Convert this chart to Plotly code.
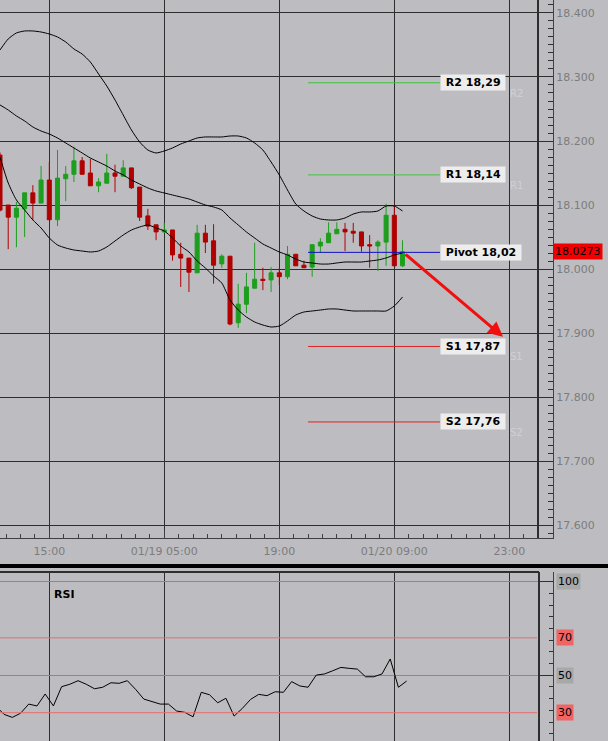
import plotly.graph_objects as go
import pandas as pd

# ---------------- data ----------------
times = pd.date_range("2015-01-18 09:00", periods=50, freq="h")

opens = [18.178, 18.100, 18.081, 18.094, 18.119, 18.103, 18.139, 18.077, 18.141, 18.148,
         18.169, 18.150, 18.130, 18.134, 18.150, 18.145, 18.158, 18.128, 18.083, 18.069,
         18.058, 18.061, 18.023, 18.017, 17.994, 18.056, 18.044, 18.008, 18.020, 17.916,
         17.945, 17.970, 17.984, 17.983, 17.994, 17.988, 18.023, 18.006, 18.003, 18.036,
         18.041, 18.055, 18.062, 18.059, 18.058, 18.038, 18.036, 18.042, 18.084, 18.005]
highs = [18.182, 18.100, 18.105, 18.119, 18.131, 18.161, 18.167, 18.186, 18.161, 18.191,
         18.175, 18.172, 18.142, 18.180, 18.163, 18.170, 18.158, 18.128, 18.094, 18.069,
         18.072, 18.061, 18.041, 18.017, 18.069, 18.069, 18.070, 18.023, 18.020, 17.977,
         17.994, 18.041, 18.002, 18.003, 18.002, 18.036, 18.023, 18.013, 18.038, 18.048,
         18.073, 18.073, 18.072, 18.072, 18.058, 18.053, 18.045, 18.102, 18.100, 18.045]
lows = [18.090, 18.031, 18.034, 18.050, 18.077, 18.103, 18.077, 18.067, 18.106, 18.136,
        18.147, 18.130, 18.120, 18.134, 18.120, 18.145, 18.125, 18.075, 18.061, 18.045,
        18.056, 18.013, 17.972, 17.964, 17.994, 18.025, 17.977, 18.002, 17.912, 17.908,
        17.931, 17.970, 17.967, 17.964, 17.975, 17.984, 18.005, 18.002, 17.988, 18.025,
        18.041, 18.055, 18.028, 18.041, 18.027, 18.002, 17.997, 18.005, 18.005, 18.003]
closes = [18.092, 18.081, 18.095, 18.119, 18.103, 18.139, 18.077, 18.142, 18.148, 18.169,
          18.148, 18.130, 18.136, 18.150, 18.145, 18.158, 18.127, 18.081, 18.067, 18.058,
          18.061, 18.022, 18.017, 17.995, 18.056, 18.042, 18.006, 18.020, 17.914, 17.945,
          17.972, 17.984, 17.982, 17.994, 17.988, 18.023, 18.005, 18.002, 18.038, 18.042,
          18.056, 18.062, 18.058, 18.056, 18.036, 18.036, 18.042, 18.084, 18.005, 18.027]

bb_upper = [18.3422, 18.3594, 18.3688, 18.3719, 18.3719, 18.3703, 18.3672, 18.3625, 18.3547, 18.3438,
            18.3359, 18.3234, 18.3047, 18.2859, 18.2641, 18.2406, 18.2172, 18.1984, 18.1859, 18.1813,
            18.1844, 18.1891, 18.1953, 18.2000, 18.2047, 18.2063, 18.2063, 18.2063, 18.2078, 18.2078,
            18.2047, 18.1969, 18.1859, 18.1672, 18.1469, 18.1234, 18.1016, 18.0906, 18.0828, 18.0781,
            18.0766, 18.0766, 18.0797, 18.0859, 18.0891, 18.0891, 18.0906, 18.0984, 18.0984, 18.0906]
bb_middle = [18.2563, 18.2484, 18.2391, 18.2313, 18.2219, 18.2156, 18.2109, 18.2047, 18.1969, 18.1891,
             18.1813, 18.1734, 18.1672, 18.1609, 18.1531, 18.1469, 18.1391, 18.1328, 18.1266, 18.1219,
             18.1188, 18.1156, 18.1125, 18.1094, 18.1047, 18.1000, 18.0969, 18.0922, 18.0797, 18.0688,
             18.0578, 18.0484, 18.0391, 18.0328, 18.0266, 18.0219, 18.0156, 18.0109, 18.0094, 18.0078,
             18.0078, 18.0094, 18.0109, 18.0109, 18.0109, 18.0125, 18.0141, 18.0172, 18.0219, 18.0250]
bb_lower = [18.1750, 18.1344, 18.1078, 18.0922, 18.0766, 18.0641, 18.0484, 18.0375, 18.0328, 18.0297,
            18.0281, 18.0266, 18.0281, 18.0344, 18.0438, 18.0531, 18.0609, 18.0656, 18.0688, 18.0641,
            18.0594, 18.0484, 18.0359, 18.0266, 18.0125, 18.0016, 17.9891, 17.9781, 17.9516, 17.9359,
            17.9250, 17.9172, 17.9125, 17.9094, 17.9109, 17.9188, 17.9281, 17.9328, 17.9344, 17.9359,
            17.9375, 17.9375, 17.9359, 17.9344, 17.9344, 17.9344, 17.9344, 17.9344, 17.9422, 17.9563]

rsi_times = pd.date_range("2015-01-18 08:30", periods=51, freq="h")
rsi_values = [33.5,
              29.1, 27.5, 29.7, 34.6, 33.6, 40.0, 33.6, 43.9, 45.2, 47.1,
              45.2, 42.8, 43.6, 46.0, 45.7, 47.1, 42.5, 37.3, 35.9, 34.6,
              34.6, 30.9, 30.2, 27.8, 40.9, 39.6, 35.3, 37.7, 28.2, 32.3,
              37.1, 39.8, 39.1, 41.2, 40.9, 46.6, 44.3, 43.6, 50.1, 50.7,
              52.4, 54.2, 53.7, 53.3, 49.2, 49.2, 50.7, 58.7, 43.6, 46.9]

level_names = ["R2", "R1", "Pivot", "S1", "S2"]
level_values = [18.291, 18.147, 18.026, 17.879, 17.761]
level_labels = ["R2 18,29", "R1 18,14", "Pivot 18,02", "S1 17,87", "S2 17,76"]
level_colors = ["#3cc43c", "#3cc43c", "#1010c8", "#e02020", "#e02020"]
faint_names = ["R2", "R1", "", "S1", "S2"]
level_start = "2015-01-19 22:30"
level_end = "2015-01-20 14:34"
faint_time = "2015-01-20 22:50"

last_price = 18.0273
arrow_from_time, arrow_from_price = "2015-01-20 10:11", 18.025
arrow_to_time, arrow_to_price = "2015-01-20 22:14", 17.894

time_tickvals = ["2015-01-18 15:00", "2015-01-19 05:00", "2015-01-19 19:00",
                 "2015-01-20 09:00", "2015-01-20 23:00"]
time_ticktext = ["15:00", "01/19 05:00", "19:00", "01/20 09:00", "23:00"]
price_tickvals = [17.6, 17.7, 17.8, 17.9, 18.0, 18.1, 18.2, 18.3, 18.4]
price_ticktext = ["17.600", "17.700", "17.800", "17.900", "18.000",
                  "18.100", "18.200", "18.300", "18.400"]
rsi_levels = [100, 70, 50, 30]
rsi_level_colors = ["#a8a8a8", "#f06464", "#a8a8a8", "#f06464"]

# ---------------- geometry ----------------
W, H = 608, 741
BG = "#bdbdc1"
GRID = "#2e2e2e"
FONT = "DejaVu Sans"
x_range = ["2015-01-18 09:00", "2015-01-21 04:19"]
main_dom = [203 / H, 1.0]
rsi_dom = [0.0, 169 / H]
xdom = [0.0, 553 / W]

fig = go.Figure()

fig.add_trace(go.Candlestick(
    x=times, open=opens, high=highs, low=lows, close=closes,
    increasing=dict(line=dict(color="#1e9e1e", width=1), fillcolor="#1e9e1e"),
    decreasing=dict(line=dict(color="#b00000", width=1), fillcolor="#b00000"),
    whiskerwidth=0, xaxis="x", yaxis="y", showlegend=False, hoverinfo="skip"))

for band in (bb_upper, bb_middle, bb_lower):
    fig.add_trace(go.Scatter(x=times, y=band, mode="lines",
                             line=dict(color="black", width=1, shape="spline", smoothing=0.6),
                             xaxis="x", yaxis="y", showlegend=False, hoverinfo="skip"))

for v, c in zip(level_values, level_colors):
    fig.add_trace(go.Scatter(x=[level_start, level_end], y=[v, v], mode="lines",
                             line=dict(color=c, width=1), xaxis="x", yaxis="y",
                             showlegend=False, hoverinfo="skip"))

fig.add_trace(go.Scatter(x=rsi_times, y=rsi_values, mode="lines",
                         line=dict(color="black", width=1),
                         xaxis="x2", yaxis="y2", showlegend=False, hoverinfo="skip"))

annotations = []
for v, lab, fn in zip(level_values, level_labels, faint_names):
    annotations.append(dict(x=level_end, y=v, xref="x", yref="y", xanchor="left", yanchor="middle",
                            text="<b>\u00a0" + lab + "\u00a0</b>", showarrow=False,
                            font=dict(family=FONT, size=11, color="black"),
                            bgcolor="#ededed", borderpad=1))
    if fn:
        annotations.append(dict(x=faint_time, y=v, xref="x", yref="y", xanchor="left", yanchor="top",
                                yshift=-3, text=fn, showarrow=False,
                                font=dict(family=FONT, size=10, color="#d0d0d4")))

annotations.append(dict(x=arrow_to_time, y=arrow_to_price, ax=arrow_from_time, ay=arrow_from_price,
                        xref="x", yref="y", axref="x", ayref="y", text="", showarrow=True,
                        arrowhead=2, arrowsize=1, arrowwidth=3, arrowcolor="#f01010"))

annotations.append(dict(x=553 / W, y=last_price, xref="paper", yref="y", xanchor="left", yanchor="middle",
                        text=f"{last_price:.4f}", showarrow=False,
                        font=dict(family=FONT, size=11, color="black"),
                        bgcolor="#f00000", borderpad=1))

for lv, col in zip(rsi_levels, rsi_level_colors):
    annotations.append(dict(x=556 / W, y=lv, xref="paper", yref="y2", xanchor="left", yanchor="middle",
                            text=str(lv), showarrow=False,
                            font=dict(family=FONT, size=11, color="black"),
                            bgcolor=col, borderpad=1))

annotations.append(dict(x=52 / W, y=(H - 594) / H, xref="paper", yref="paper", xanchor="left",
                        yanchor="middle", text="<b>RSI</b>", showarrow=False,
                        font=dict(family=FONT, size=11, color="black")))

shapes = [
    # main chart right border
    dict(type="line", xref="paper", yref="paper", x0=538 / W, x1=538 / W, y0=main_dom[0], y1=1,
         line=dict(color=GRID, width=2)),
    # thick separator
    dict(type="rect", xref="paper", yref="paper", x0=0, x1=1, y0=(H - 568) / H, y1=(H - 564) / H,
         fillcolor="black", line=dict(width=0)),
    # RSI panel borders
    dict(type="line", xref="paper", yref="paper", x0=0, x1=539 / W, y0=rsi_dom[1], y1=rsi_dom[1],
         line=dict(color=GRID, width=2)),
    dict(type="line", xref="paper", yref="paper", x0=539 / W, x1=539 / W, y0=0, y1=rsi_dom[1],
         line=dict(color=GRID, width=2)),
]
for lv, col in zip(rsi_levels, rsi_level_colors):
    if lv in (70, 30):
        shapes.append(dict(type="line", xref="paper", yref="y2", x0=0, x1=537 / W, y0=lv, y1=lv,
                           line=dict(color="#e46e6e", width=1)))

tickfont = dict(family=FONT, size=11, color="#7c7c7c")

fig.update_layout(
    width=W, height=H, margin=dict(l=0, r=0, t=0, b=0, pad=0),
    paper_bgcolor=BG, plot_bgcolor=BG, showlegend=False, hovermode=False,
    xaxis=dict(domain=xdom, range=x_range, type="date", anchor="y",
               tickvals=time_tickvals, ticktext=time_ticktext, tickfont=tickfont,
               ticklabelstandoff=3,
               showgrid=True, gridcolor=GRID, gridwidth=1,
               ticks="inside", ticklen=8, tickcolor="#404040",
               minor=dict(ticks="inside", ticklen=4, tickcolor="#404040",
                          dtick=6300000, tick0="2015-01-18 15:00", showgrid=False),
               showline=True, linecolor="#404040", linewidth=1,
               rangeslider=dict(visible=False), zeroline=False, automargin=False),
    yaxis=dict(domain=main_dom, range=[17.5797, 18.4203], anchor="x", side="right",
               tickvals=price_tickvals, ticktext=price_ticktext, tickfont=tickfont,
               showgrid=True, gridcolor=GRID, gridwidth=1,
               ticks="inside", ticklen=15, tickcolor="#303030",
               minor=dict(ticks="inside", ticklen=5, tickcolor="#303030",
                          dtick=0.0125, tick0=17.6, showgrid=False),
               showline=True, linecolor="#404040", linewidth=1,
               zeroline=False, automargin=False),
    xaxis2=dict(domain=xdom, range=x_range, type="date", anchor="y2", matches="x",
                tickvals=time_tickvals, showticklabels=False, ticks="",
                showgrid=True, gridcolor=GRID, gridwidth=1, showline=False,
                zeroline=False, automargin=False),
    yaxis2=dict(domain=rsi_dom, range=[14.88, 105.18], anchor="x2", side="right",
                tickvals=[50, 100], showticklabels=False,
                showgrid=True, gridcolor="#8a8a8a", gridwidth=1,
                ticks="inside", ticklen=13, tickcolor="#303030",
                minor=dict(ticks="inside", ticklen=4, tickcolor="#303030",
                           dtick=6.25, tick0=100, showgrid=False),
                showline=True, linecolor="#404040", linewidth=1,
                zeroline=False, automargin=False),
    annotations=annotations, shapes=shapes,
    boxgap=0.3,
)

fig.write_html("out.html", config={"displayModeBar": False})

# remove the browser's default page margin so the figure sits at the window's corner
with open("out.html", "r", encoding="utf-8") as f:
    html = f.read()
html = html.replace("<head>", "<head><style>html,body{margin:0;padding:0;overflow:hidden;}</style>", 1)
with open("out.html", "w", encoding="utf-8") as f:
    f.write(html)
